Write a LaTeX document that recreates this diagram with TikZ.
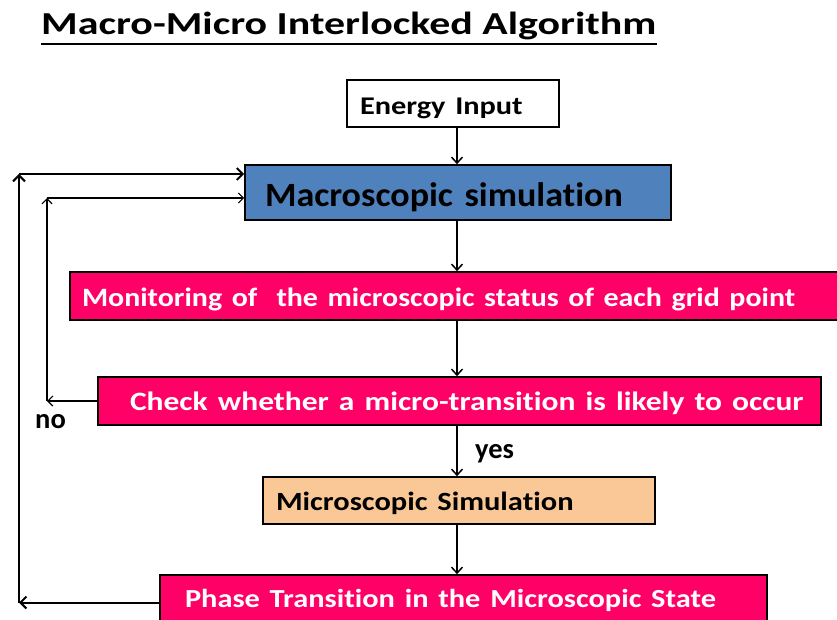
\documentclass[tikz,border=0pt]{standalone}
\usepackage{fontspec}
\usepackage{graphicx}
\setmainfont{Carlito}[Ligatures=NoCommon]
\usetikzlibrary{arrows.meta}
\definecolor{macroblue}{HTML}{4F81BD}
\definecolor{hotpink}{HTML}{FF0066}
\definecolor{peach}{HTML}{FAC896}
% wide lettering: size, horizontal stretch, text
\newcommand{\widetxt}[3]{\fontsize{#1}{#1}\selectfont\bfseries\scalebox{#2}[1]{#3}}
% box lettering, with wider word gaps
\newcommand{\boxtxt}[3]{\fontsize{#1}{#1}\selectfont\bfseries\spaceskip=0.32em\relax\scalebox{#2}[1]{#3}}
\tikzset{
  flowbox/.style={draw=black, line width=1.6pt, align=left, inner ysep=0pt, text depth=0pt},
  arr/.style={line width=1.5pt, -{Straight Barb[length=6pt,width=11pt,line width=1.5pt]}},
  loopthick/.style={line width=2pt, -{Straight Barb[length=6pt,width=12pt,line width=2pt]}},
  loopthin/.style={line width=1.2pt, -{Straight Barb[length=5pt,width=10pt,line width=1.2pt]}},
  lbl/.style={font=\fontsize{28.5}{30}\selectfont\bfseries, inner sep=0pt, anchor=base west}
}
\begin{document}
\begin{tikzpicture}[x=1pt,y=1pt]
\useasboundingbox (0,0) rectangle (837,-620);
\clip (0,0) rectangle (837,-620);

% title
\node[anchor=base west, inner sep=0pt] (title) at (41,-35) {\widetxt{32}{1.31}{Macro-Micro Interlocked Algorithm}};
\draw[line width=2pt] (title.base west |- 0,-44.5) -- (title.base east |- 0,-44.5);

% boxes
\node[flowbox, fill=white, minimum height=47, inner xsep=13, text width=186, text height=21.6]
  (energy) at (453,-103.5) {\boxtxt{25.5}{1.19}{Energy Input}};
\node[flowbox, fill=macroblue, minimum height=55, inner xsep=20, text width=386, text height=28.4]
  (macro) at (458,-192.5) {\boxtxt{34}{1.06}{Macroscopic simulation}};
\node[flowbox, fill=hotpink, text=white, minimum height=48, inner xsep=12, text width=756, text height=21.4]
  (monitor) at (460,-296) {\boxtxt{26.5}{1.13}{Monitoring of\ \ the microscopic status of each grid point}};
\node[flowbox, fill=hotpink, text=white, minimum height=48, inner xsep=21.5, text width=680, text height=18.6]
  (check) at (459.5,-401) {\hspace*{10.5pt}\boxtxt{26.5}{1.19}{Check whether a micro-transition is likely to occur}};
\node[flowbox, fill=peach, minimum height=47, inner xsep=13, text width=366, text height=19.6]
  (micro) at (459,-500.5) {\boxtxt{26.3}{1.16}{Microscopic Simulation}};
\node[flowbox, fill=hotpink, text=white, minimum height=55, inner xsep=25, text width=557, text height=9.6]
  (phase) at (463.5,-602.5) {\boxtxt{26}{1.17}{Phase Transition in the Microscopic State}};

% main spine
\coordinate (spine) at (457,0);
\draw[arr] (spine |- energy.south) -- (spine |- macro.north);
\draw[arr] (spine |- macro.south) -- (spine |- monitor.north);
\draw[arr] (spine |- monitor.south) -- (spine |- check.north);
\draw[arr] (spine |- check.south) -- (spine |- micro.north);
\draw[arr] (spine |- micro.south) -- (spine |- phase.north);
\node[lbl] (yes) at (475,-458.3) {yes};

% outer feedback loop
\coordinate (outer) at (19,-174);
\coordinate (outerlow) at (outer |- phase.west);
\draw[loopthick] (phase.west) -- (outerlow);
\draw[loopthick] (outerlow) -- (outer);
\draw[loopthick] (outer) -- (outer -| macro.west);

% inner feedback loop (no branch)
\coordinate (inner) at (47,-198);
\coordinate (innerlow) at (inner |- check.west);
\draw[loopthin] (check.west) -- (innerlow);
\draw[loopthin] (innerlow) -- (inner);
\draw[loopthin] (inner) -- (inner -| macro.west);
\node[lbl] (no) at (35,-428.3) {no};
\end{tikzpicture}
\end{document}
